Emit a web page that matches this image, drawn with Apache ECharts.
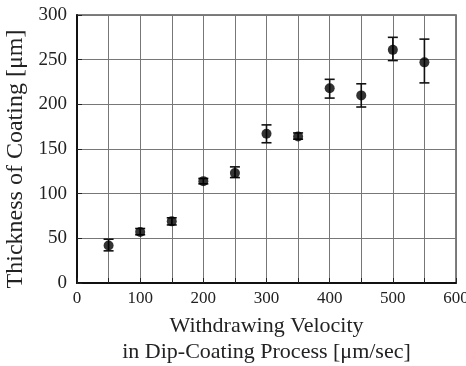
<!DOCTYPE html>
<html><head><meta charset="utf-8">
<script src="https://cdn.jsdelivr.net/npm/echarts@6/dist/echarts.min.js"></script>
<style>html,body{margin:0;padding:0;background:#fff}#c{width:466px;height:366px}</style>
</head><body><div id="c"></div>
<script>
var velocity = [50, 100, 150, 200, 250, 300, 350, 400, 450, 500, 550];
var thickness = [42, 57, 69, 114, 123, 167, 164, 218, 210, 261, 247];
var errLow = [36, 54, 65, 111, 118, 157, 161, 207, 197, 249, 224];
var errHigh = [49, 61, 73, 117, 130, 177, 168, 228, 223, 275, 273];
var xName = 'Withdrawing Velocity\nin Dip-Coating Process [\u03bcm/sec]';
var yName = 'Thickness of Coating [\u03bcm]';

var F = 'Liberation Serif, Times New Roman, serif';
var chart = echarts.init(document.getElementById('c'), null, {renderer: 'canvas'});
var pts = velocity.map(function (v, i) { return [v, thickness[i]]; });
var bars = velocity.map(function (v, i) { return [v, errLow[i], errHigh[i]]; });
chart.setOption({
  animation: false,
  grid: {left: 77, right: 10, top: 15, bottom: 83, show: true, borderColor: '#555', borderWidth: 1.5,
    containLabel: false, outerBoundsMode: 'none'},
  xAxis: {
    type: 'value', min: 0, max: 600, interval: 50,
    name: xName, nameLocation: 'middle', nameGap: 30,
    nameTextStyle: {fontFamily: F, fontSize: 22, color: '#222', lineHeight: 26},
    axisLine: {lineStyle: {color: '#111', width: 2}},
    axisTick: {inside: true, length: 5, lineStyle: {color: '#222'}},
    axisLabel: {fontFamily: F, fontSize: 17, color: '#222', margin: 7,
      formatter: function (v) { return v % 100 === 0 ? String(v) : ''; }},
    splitLine: {show: true, lineStyle: {color: '#777', width: 1}}
  },
  yAxis: {
    type: 'value', min: 0, max: 300, interval: 50,
    name: yName, nameLocation: 'middle', nameGap: 40,
    nameTextStyle: {fontFamily: F, fontSize: 24, color: '#222', padding: [0, 20, 0, 0]},
    axisLine: {lineStyle: {color: '#111', width: 2}},
    axisTick: {inside: true, length: 5, lineStyle: {color: '#222'}},
    axisLabel: {fontFamily: F, fontSize: 19, color: '#222', margin: 10},
    splitLine: {show: true, lineStyle: {color: '#777', width: 1}}
  },
  series: [
    {
      type: 'custom', data: bars, z: 3,
      renderItem: function (params, api) {
        var x = api.value(0);
        var lo = api.coord([x, api.value(1)]);
        var hi = api.coord([x, api.value(2)]);
        var hw = 5;
        var st = {stroke: '#111', lineWidth: 1.6};
        return {type: 'group', children: [
          {type: 'line', shape: {x1: lo[0], y1: lo[1], x2: hi[0], y2: hi[1]}, style: st},
          {type: 'line', shape: {x1: lo[0] - hw, y1: lo[1], x2: lo[0] + hw, y2: lo[1]}, style: st},
          {type: 'line', shape: {x1: hi[0] - hw, y1: hi[1], x2: hi[0] + hw, y2: hi[1]}, style: st}
        ]};
      }
    },
    {
      type: 'scatter', data: pts, symbol: 'circle', symbolSize: 10, z: 4,
      itemStyle: {color: '#000'}
    }
  ]
});
</script></body></html>
